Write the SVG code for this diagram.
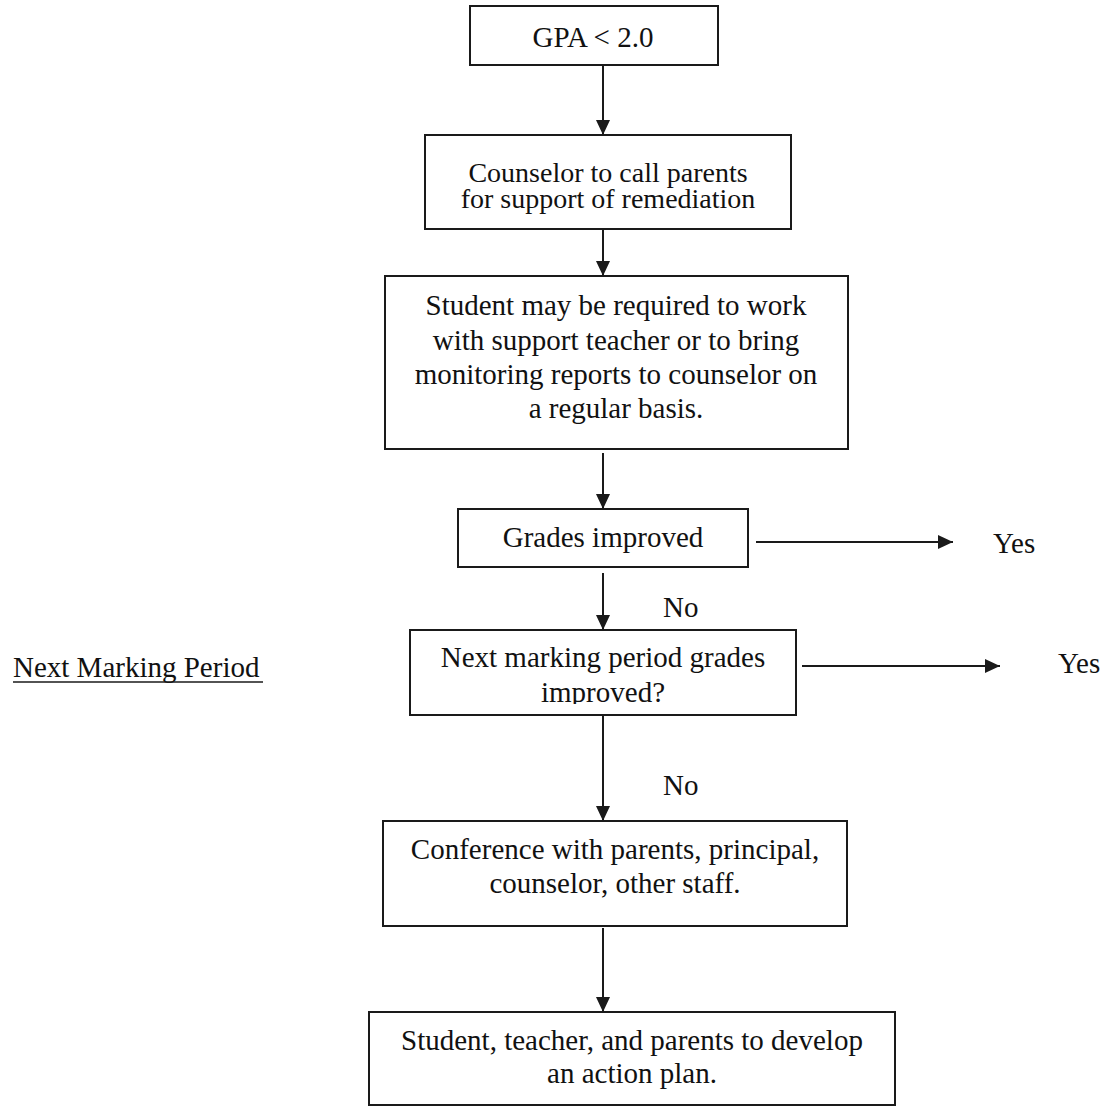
<svg xmlns="http://www.w3.org/2000/svg" width="1108" height="1106" viewBox="0 0 1108 1106">
<style>
.box{fill:#fff;stroke:#1a1a1a;stroke-width:2}
.t{font-family:"Liberation Serif","Times New Roman",serif;font-size:29px;fill:#111;text-anchor:middle}
.t2{font-size:28px}
.l{font-family:"Liberation Serif","Times New Roman",serif;font-size:29px;fill:#111}
.c{stroke:#1a1a1a;stroke-width:2;fill:none;marker-end:url(#ah)}
</style>
<defs>
<marker id="ah" markerUnits="userSpaceOnUse" markerWidth="16" markerHeight="16" viewBox="0 0 16 16" refX="15" refY="8" orient="auto">
<path d="M0,1 L15,8 L0,15 Z" fill="#1a1a1a"/>
</marker>
<clipPath id="clip5"><rect x="400" y="620" width="410" height="84"/></clipPath>
</defs>
<rect width="1108" height="1106" fill="#fff"/>
<g id="connectors">
<line class="c" x1="603" y1="65" x2="603" y2="135"/>
<line class="c" x1="603" y1="229" x2="603" y2="276"/>
<line class="c" x1="603" y1="453" x2="603" y2="509"/>
<line class="c" x1="756" y1="542" x2="953" y2="542"/>
<line class="c" x1="603" y1="573" x2="603" y2="630"/>
<line class="c" x1="802" y1="666" x2="1000" y2="666"/>
<line class="c" x1="603" y1="715" x2="603" y2="821"/>
<line class="c" x1="603" y1="928" x2="603" y2="1012"/>
<text class="l" x="993" y="553">Yes</text>
<text class="l" x="663" y="617">No</text>
<text class="l" x="1058" y="673">Yes</text>
<text class="l" x="663" y="795">No</text>
</g>
<g id="label-next-marking-period">
<text class="l" x="13" y="677">Next Marking Period</text>
<line x1="13" y1="682" x2="263" y2="682" stroke="#1a1a1a" stroke-width="1.5"/>
</g>
<g id="n1">
<rect class="box" x="470" y="6" width="248" height="59"/>
<text class="t" x="593" y="47">GPA &lt; 2.0</text>
</g>
<g id="n2">
<rect class="box" x="425" y="135" width="366" height="94"/>
<text class="t t2" x="608" y="182">Counselor to call parents</text>
<text class="t t2" x="608" y="208">for support of remediation</text>
</g>
<g id="n3">
<rect class="box" x="385" y="276" width="463" height="173"/>
<text class="t" x="616" y="315">Student may be required to work</text>
<text class="t" x="616" y="350">with support teacher or to bring</text>
<text class="t" x="616" y="384">monitoring reports to counselor on</text>
<text class="t" x="616" y="418">a regular basis.</text>
</g>
<g id="n4">
<rect class="box" x="458" y="509" width="290" height="58"/>
<text class="t" x="603" y="547">Grades improved</text>
</g>
<g id="n5">
<rect class="box" x="410" y="630" width="386" height="85"/>
<text class="t" x="603" y="667">Next marking period grades</text>
<text class="t" x="603" y="702" clip-path="url(#clip5)">improved?</text>
</g>
<g id="n6">
<rect class="box" x="383" y="821" width="464" height="105"/>
<text class="t" x="615" y="859">Conference with parents, principal,</text>
<text class="t" x="615" y="893">counselor, other staff.</text>
</g>
<g id="n7">
<rect class="box" x="369" y="1012" width="526" height="93"/>
<text class="t" x="632" y="1050">Student, teacher, and parents to develop</text>
<text class="t" x="632" y="1083">an action plan.</text>
</g>
</svg>
